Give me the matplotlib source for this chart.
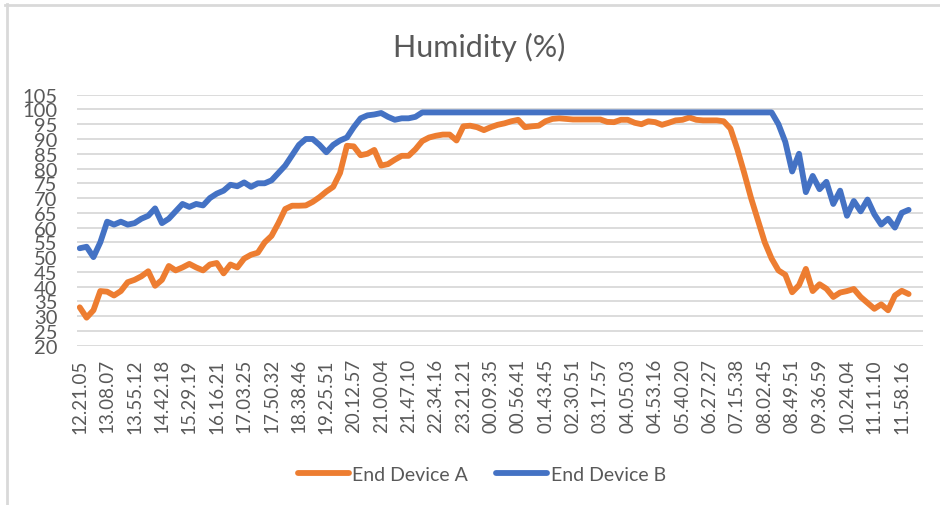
import matplotlib
matplotlib.use('Agg')
import matplotlib.pyplot as plt
from matplotlib.lines import Line2D

plt.rcParams['font.family'] = ['Lato', 'DejaVu Sans']

# x tick labels (time stamps), one every 4 samples
time_labels = ['12.21.05', '13.08.07', '13.55.12', '14.42.18', '15.29.19', '16.16.21',
               '17.03.25', '17.50.32', '18.38.46', '19.25.51', '20.12.57', '21.00.04',
               '21.47.10', '22.34.16', '23.21.21', '00.09.35', '00.56.41', '01.43.45',
               '02.30.51', '03.17.57', '04.05.03', '04.53.16', '05.40.20', '06.27.27',
               '07.15.38', '08.02.45', '08.49.51', '09.36.59', '10.24.04', '11.11.10',
               '11.58.16']
label_step = 4

# humidity readings (%)
device_a = [33, 29.5, 32, 38.5, 38.3, 37, 38.5, 41.5, 42.3, 43.5,
            45.2, 40.3, 42.3, 47, 45.5, 46.5, 47.7, 46.5, 45.5, 47.5,
            48, 44.5, 47.5, 46.5, 49.5, 50.8, 51.5, 55, 57.2, 61.5,
            66.3, 67.4, 67.4, 67.5, 68.7, 70.3, 72.2, 73.8, 78.5, 87.7,
            87.5, 84.5, 85, 86.3, 81, 81.5, 83, 84.3, 84.3, 86.5,
            89.3, 90.5, 91.1, 91.5, 91.5, 89.5, 94.3, 94.5, 94, 93,
            94, 94.8, 95.3, 96, 96.5, 94, 94.3, 94.5, 96, 96.8,
            97, 96.8, 96.6, 96.6, 96.6, 96.6, 96.6, 95.8, 95.7, 96.5,
            96.5, 95.5, 95, 96, 95.7, 94.8, 95.5, 96.3, 96.5, 97.3,
            96.5, 96.3, 96.3, 96.3, 96, 93.5, 86.5, 78.5, 70, 62.5,
            55, 49.5, 45.5, 44, 38.1, 40.5, 46, 38.5, 40.8, 39.3,
            36.5, 38, 38.5, 39.2, 36.5, 34.5, 32.5, 34, 32, 37,
            38.6, 37.5]
device_b = [53, 53.5, 50, 55, 62, 61, 62, 61, 61.5, 63,
            64, 66.5, 61.5, 63, 65.5, 68, 67, 68, 67.5, 70,
            71.5, 72.5, 74.5, 74, 75.3, 73.8, 75, 75, 76, 78.5,
            81, 84.5, 88, 90, 90, 88, 85.5, 88, 89.5, 90.5,
            94, 97, 98, 98.3, 98.8, 97.5, 96.5, 97, 97, 97.5,
            99, 99, 99, 99, 99, 99, 99, 99, 99, 99,
            99, 99, 99, 99, 99, 99, 99, 99, 99, 99,
            99, 99, 99, 99, 99, 99, 99, 99, 99, 99,
            99, 99, 99, 99, 99, 99, 99, 99, 99, 99,
            99, 99, 99, 99, 99, 99, 99, 99, 99, 99,
            99, 99, 95, 89, 79, 85, 72, 77.5, 73, 75.5,
            68, 72.5, 64, 69, 65.5, 69.5, 64.5, 61, 63, 60,
            65, 66]

c_a = '#ED7D31'
c_b = '#4472C4'
c_text = '#595959'
c_grid = '#D9D9D9'

W, H = 940, 506
fig = plt.figure(figsize=(W/100, H/100), dpi=100)
ax = fig.add_axes([77/W, (H-346.7)/H, 846/W, 251/H])

xs = list(range(len(device_a)))
ax.plot(xs, device_a, color=c_a, lw=4.2, solid_capstyle='round', solid_joinstyle='round',
        label='End Device A', zorder=3)
ax.plot(xs, device_b, color=c_b, lw=4.2, solid_capstyle='round', solid_joinstyle='round',
        label='End Device B', zorder=4)

ax.set_ylim(20, 105)
ax.set_yticks(range(20, 106, 5))
ax.set_xlim(-0.4, 123.1)
ax.set_xticks([i*label_step for i in range(len(time_labels))])
ax.set_xticklabels(time_labels, rotation=90)
ax.tick_params(length=0, labelcolor=c_text)
ax.tick_params(axis='x', pad=9, labelsize=13.5)
ax.tick_params(axis='y', pad=14, labelsize=14.5)
ax.grid(axis='y', color=c_grid, lw=1.3)
ax.set_axisbelow(True)
for s in ax.spines.values():
    s.set_visible(False)

fig.text(479/W, 1-47/H, 'Humidity (%)', ha='center', va='center', fontsize=22, color=c_text)
fig.legend(loc='center', bbox_to_anchor=(482/W, 1-475.7/H), ncol=2, frameon=False,
           fontsize=14, labelcolor=c_text, handlelength=2.6, handletextpad=0.2,
           columnspacing=1.45)

# chart area border (top and left edges visible)
fig.add_artist(Line2D([5/W, 1], [1-6/H, 1-6/H], color=c_grid, lw=2, transform=fig.transFigure))
fig.add_artist(Line2D([6.5/W, 6.5/W], [0, 1-5/H], color=c_grid, lw=2, transform=fig.transFigure))

fig.savefig('out.png', dpi=100)
